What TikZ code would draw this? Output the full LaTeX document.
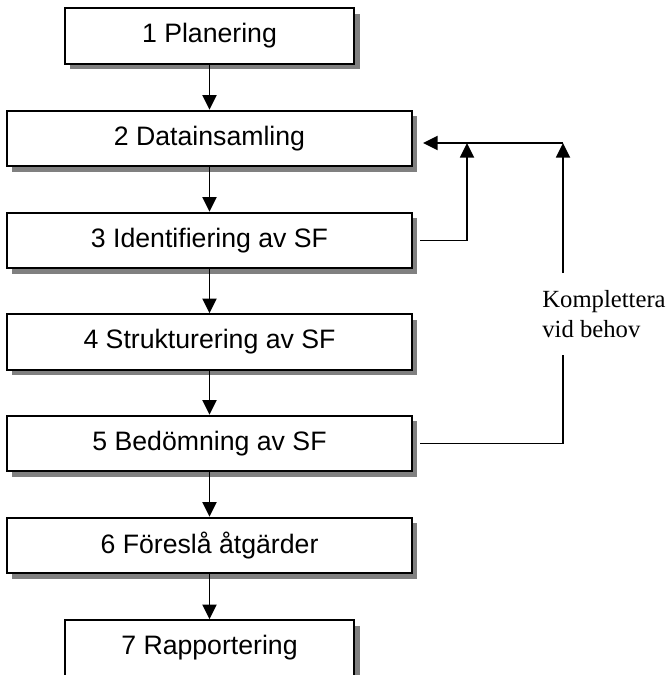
\documentclass[tikz,border=0pt]{standalone}
\usepackage{fontspec}
\setmainfont{Liberation Sans}
\newfontfamily\serifk{Liberation Serif}
\usetikzlibrary{arrows.meta,shadows}
\begin{document}
\begin{tikzpicture}[x=0.75pt,y=-0.75pt,
  stepbox/.style={draw=black, line width=1.6pt, fill=white, minimum height=41.5pt,
    inner sep=0pt, font=\fontsize{20}{24}\selectfont,
    drop shadow={shadow xshift=4pt, shadow yshift=-4pt, fill=black!50, opacity=1}},
  wide/.style={minimum width=303.75pt},
  narrow/.style={minimum width=217pt},
  flow/.style={line width=1.4pt, -{Triangle[length=11pt,width=10.5pt]}},
  plain/.style={line width=1.4pt},
  note/.style={font=\serifk\fontsize{18.5}{22.5}\selectfont, align=left, inner sep=0pt}]
\useasboundingbox (0,0) rectangle (669,675);
\clip (0,0) rectangle (669,675);

\node[stepbox, narrow] (b1) at (209.5,36) {1 Planering};
\node[stepbox, wide] (b2) at (209.5,138.5) {2 Datainsamling};
\node[stepbox, wide] (b3) at (209.5,240.5) {3 Identifiering av SF};
\node[stepbox, wide] (b4) at (209.5,342) {4 Strukturering av SF};
\node[stepbox, wide] (b5) at (209.5,443.5) {5 Bedömning av SF};
\node[stepbox, wide] (b6) at (209.5,545.5) {6 Föreslå åtgärder};
\node[stepbox, narrow] (b7) at (209.5,648) {7 Rapportering};

\draw[flow] (b1) -- (b2);
\draw[flow] (b2) -- (b3);
\draw[flow] (b3) -- (b4);
\draw[flow] (b4) -- (b5);
\draw[flow] (b5) -- (b6);
\draw[flow] (b6) -- (b7);

\node[note] (k) at (604,314) {Komplettera\\vid behov};

\coordinate (j1) at (467,143);
\coordinate (j2) at (563,143);
\coordinate (kt) at (563,273);
\coordinate (kb) at (563,355);

\draw[flow, shorten <=5.5pt] (b3.east) -| (j1);
\draw[plain, shorten <=5.5pt] (b5.east) -| (kb);
\draw[flow] (kt) -- (j2);
\draw[flow, shorten >=7.5pt] (j2) -- (b2.east |- j2);
\end{tikzpicture}
\end{document}
